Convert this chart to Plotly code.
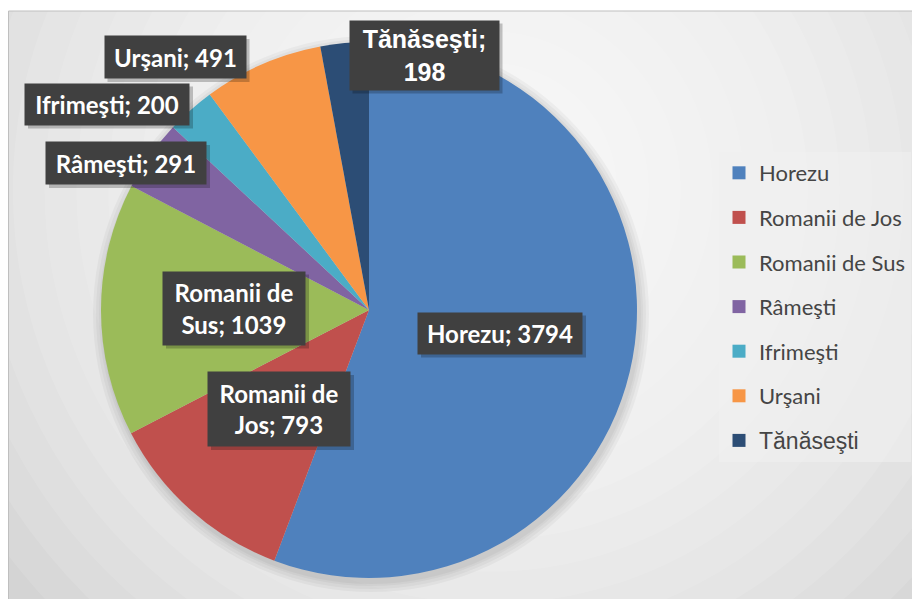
import plotly.graph_objects as go

# ---- data ----
categories = ["Horezu", "Romanii de Jos", "Romanii de Sus", "Râmeşti", "Ifrimeşti", "Urşani", "Tănăseşti"]
values = [3794, 793, 1039, 291, 200, 491, 198]
colors = ["#4F81BD", "#C0504D", "#9BBB59", "#8064A2", "#4BACC6", "#F79646", "#2C4D75"]
# label line breaks (as in the reference)
label_wrap = {"Romanii de Jos": ("Romanii de", "Jos"),
              "Romanii de Sus": ("Romanii de", "Sus"),
              "Tănăseşti": ("Tănăseşti", "")}

# ---- layout geometry (page pixels) ----
W, H = 920, 599
OFF = 8  # default page body margin in front of the figure
pie_cx, pie_cy, pie_r = 369, 310, 268
# label boxes: center x, center y, width, height
label_boxes = {
    "Horezu": (500, 333, 164, 41),
    "Romanii de Jos": (279, 409, 142, 74),
    "Romanii de Sus": (234, 308, 142, 73),
    "Râmeşti": (126, 163, 160, 42),
    "Ifrimeşti": (107, 104, 164, 41),
    "Urşani": (175, 57, 141, 42),
    "Tănăseşti": (424, 55, 149, 69),
}
alt_font = {"Tănăseşti": ("Liberation Sans, Arial, sans-serif", 25)}

fig = go.Figure()

fig.add_trace(go.Pie(
    labels=categories, values=values, sort=False, direction="clockwise", rotation=0,
    marker=dict(colors=colors, line=dict(width=0)),
    textinfo="none", showlegend=False,
    domain=dict(x=[(pie_cx - OFF - pie_r) / W, (pie_cx - OFF + pie_r) / W],
                y=[(H - (pie_cy - OFF) - pie_r) / H, (H - (pie_cy - OFF) + pie_r) / H]),
    hovertemplate="%{label}: %{value}<extra></extra>",
))

# legend entries (one group per category so that spacing can be set)
for c, col in zip(categories, colors):
    nm = c
    if c in alt_font:
        nm = f'<span style="font-family:Liberation Sans, Arial, sans-serif;font-size:23px">{c}</span>'
    fig.add_trace(go.Scatter(x=[None], y=[None], mode="markers", name=nm, legendgroup=c,
                             marker=dict(symbol="square", size=13, color=col)))

shapes = []
# base background of the chart area
shapes.append(dict(type="rect", xref="x", yref="y", x0=8, y0=11, x1=W + 20, y1=H + 20,
                   fillcolor="#c4c4c4", line=dict(width=0), layer="below"))
# radial gradient approximation
gcx, gcy, gR, N = 490, 190, 700, 22
for k in range(N):
    r = gR * (1 - k / N)
    shapes.append(dict(type="circle", xref="x", yref="y", x0=gcx - r, x1=gcx + r,
                       y0=gcy - r, y1=gcy + r, fillcolor="rgba(255,255,255,0.11)",
                       line=dict(width=0), layer="below"))
# white strip above chart area
shapes.append(dict(type="rect", xref="x", yref="y", x0=0, y0=0, x1=W + 20, y1=10.5,
                   fillcolor="white", line=dict(width=0), layer="below"))
# chart border
shapes.append(dict(type="rect", xref="x", yref="y", x0=8.5, y0=11, x1=W + 20, y1=H + 20,
                   fillcolor="rgba(0,0,0,0)", line=dict(width=1, color="#bfbfbf"), layer="below"))
# soft pie shadow
for d in (10, 7, 4, 2):
    shapes.append(dict(type="circle", xref="x", yref="y",
                       x0=pie_cx - pie_r - d + 2, x1=pie_cx + pie_r + d + 2,
                       y0=pie_cy - pie_r - d + 4, y1=pie_cy + pie_r + d + 4,
                       fillcolor="rgba(0,0,0,0.035)", line=dict(width=0), layer="below"))

annotations = []
for c, v in zip(categories, values):
    bx, by, bw, bh = label_boxes[c]
    if c in label_wrap:
        a, b = label_wrap[c]
        txt = f"{a};<br>{v}" if b == "" else f"{a}<br>{b}; {v}"
    else:
        txt = f"{c}; {v}"
    fam, sz = alt_font.get(c, ("Lato, Open Sans, sans-serif", 24))
    # shadow
    shapes.append(dict(type="rect", xref="x", yref="y", x0=bx - bw / 2 + 3, x1=bx + bw / 2 + 4,
                       y0=by - bh / 2 + 3, y1=by + bh / 2 + 4,
                       fillcolor="rgba(0,0,0,0.22)", line=dict(width=0), layer="above"))
    annotations.append(dict(x=bx, y=by, xref="x", yref="y", text=f"<b>{txt}</b>",
                            showarrow=False, xanchor="center", yanchor="middle",
                            width=bw, height=bh, borderpad=0, align="center",
                            bgcolor="#404040",
                            font=dict(family=fam, size=sz, color="white")))

fig.update_layout(
    width=W, height=H, autosize=False,
    margin=dict(l=0, r=0, t=0, b=0),
    paper_bgcolor="white", plot_bgcolor="rgba(0,0,0,0)",
    xaxis=dict(range=[OFF, W + OFF], visible=False, fixedrange=True, domain=[0, 1]),
    yaxis=dict(range=[H + OFF, OFF], visible=False, fixedrange=True, domain=[0, 1]),
    shapes=shapes, annotations=annotations,
    showlegend=True,
    legend=dict(x=(719 - OFF) / W, y=1 - (152 - OFF) / H, xanchor="left", yanchor="top",
                bgcolor="rgba(240,240,240,0.6)", borderwidth=0,
                font=dict(family="Lato, sans-serif", size=22, color="#454545"),
                tracegroupgap=13, itemsizing="trace"),
)

fig.write_html("out.html")
